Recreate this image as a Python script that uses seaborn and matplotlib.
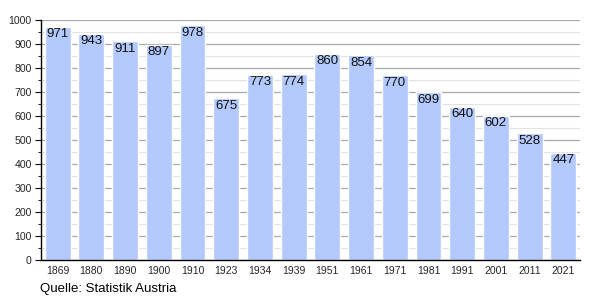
import matplotlib
matplotlib.use("Agg")
import matplotlib.pyplot as plt
import seaborn as sns
import pandas as pd
from matplotlib.ticker import MultipleLocator

years = ["1869", "1880", "1890", "1900", "1910", "1923", "1934", "1939",
         "1951", "1961", "1971", "1981", "1991", "2001", "2011", "2021"]
population = [971, 943, 911, 897, 978, 675, 773, 774,
              860, 854, 770, 699, 640, 602, 528, 447]
source = "Quelle: Statistik Austria"

sns.set_theme(style="white")
plt.rcParams['font.family'] = ['Liberation Sans', 'DejaVu Sans']

df = pd.DataFrame({"year": years, "pop": population})

fig = plt.figure(figsize=(6, 3), dpi=100)
ax = fig.add_axes([0.068, 0.133, 0.899, 0.8])

sns.barplot(data=df, x="year", y="pop", color="#b3c9fb", saturation=1,
            width=0.77, ax=ax, zorder=3)

ax.set_xlim(-0.5, len(years) - 0.5)
ax.set_ylim(0, 1000)
ax.yaxis.set_major_locator(MultipleLocator(100))
ax.yaxis.set_minor_locator(MultipleLocator(50))
ax.grid(which="major", axis="y", color="#a8a8a8", linewidth=0.9, zorder=0)
ax.grid(which="minor", axis="y", color="#e2e2e2", linewidth=0.8, zorder=0)
ax.set_axisbelow(True)

for s in ["top", "right"]:
    ax.spines[s].set_visible(False)
for s in ["left", "bottom"]:
    ax.spines[s].set_color("black")
    ax.spines[s].set_linewidth(1.0)
    ax.spines[s].set_zorder(5)

ax.tick_params(axis="y", which="major", length=4.5, width=0.8, color="black",
               labelsize=7.6, pad=2, left=True)
ax.tick_params(axis="y", which="minor", length=2.2, width=0.6, color="black", left=True)
ax.tick_params(axis="x", length=0, labelsize=7.5, pad=4)
ax.set_xlabel("")
ax.set_ylabel("")

for i, v in enumerate(population):
    ax.text(i, v - 6, str(v), ha="center", va="top", fontsize=9.5,
            color="#111111", zorder=6)

fig.text(0.067, 0.028, source, fontsize=9.5, color="black", ha="left", va="baseline")

fig.savefig("out.png", dpi=100)
